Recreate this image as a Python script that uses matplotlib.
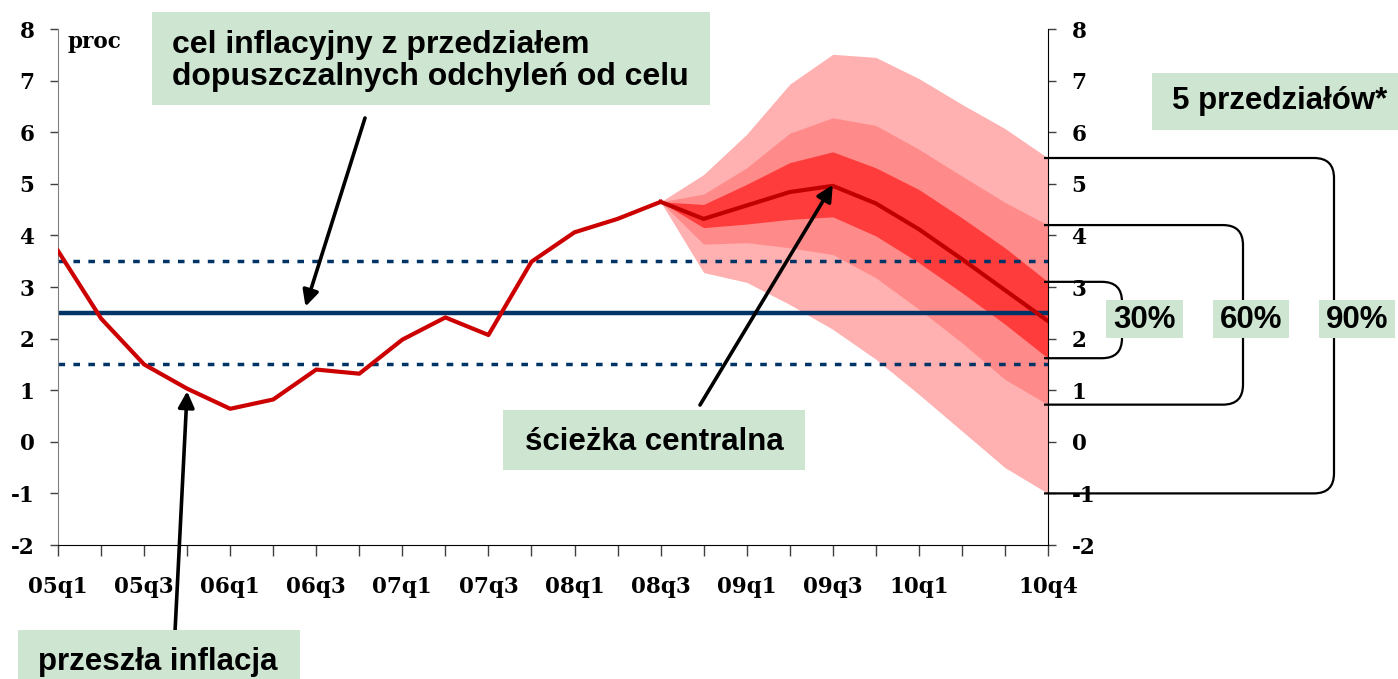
import matplotlib
matplotlib.use("Agg")
import matplotlib.pyplot as plt
import matplotlib.transforms as mtransforms
from matplotlib.patches import Rectangle, PathPatch
from matplotlib.path import Path
import numpy as np

plt.rcParams["axes.unicode_minus"] = False

# --- data ------------------------------------------------------------------
quarters = ["05q1", "05q2", "05q3", "05q4", "06q1", "06q2", "06q3", "06q4",
            "07q1", "07q2", "07q3", "07q4", "08q1", "08q2", "08q3", "08q4",
            "09q1", "09q2", "09q3", "09q4", "10q1", "10q2", "10q3", "10q4"]
labelled = ["05q1", "05q3", "06q1", "06q3", "07q1", "07q3", "08q1", "08q3",
            "09q1", "09q3", "10q1", "10q4"]

# past inflation 05q1..08q3
history = [3.70, 2.39, 1.50, 1.03, 0.64, 0.82, 1.40, 1.32,
           1.98, 2.41, 2.07, 3.49, 4.06, 4.32, 4.65]
# projection 08q3..10q4
central = [4.65, 4.32, 4.58, 4.84, 4.96, 4.62, 4.12, 3.54, 2.94, 2.34]
up90 = [4.65, 5.18, 5.96, 6.93, 7.51, 7.45, 7.04, 6.54, 6.07, 5.50]
up60 = [4.65, 4.80, 5.31, 5.98, 6.28, 6.13, 5.67, 5.15, 4.64, 4.20]
up30 = [4.65, 4.60, 4.99, 5.41, 5.62, 5.31, 4.89, 4.34, 3.76, 3.10]
lo30 = [4.65, 4.15, 4.22, 4.31, 4.36, 3.99, 3.47, 2.89, 2.28, 1.62]
lo60 = [4.65, 3.83, 3.86, 3.76, 3.63, 3.18, 2.57, 1.92, 1.21, 0.72]
lo90 = [4.65, 3.28, 3.09, 2.66, 2.18, 1.60, 0.92, 0.21, -0.50, -1.00]

target = 2.5
tolerance = 1.0

W, H = 1398, 679
NAVY = "#003366"
RED = "#CC0000"
GREEN = "#CDE5D1"
SERIF = "DejaVu Serif"
SANS = "Liberation Sans"


def fx(px):
    return px / W


def fy(py):
    return 1 - py / H


fig = plt.figure(figsize=(W / 100, H / 100), dpi=100)
ax = fig.add_axes([fx(58), fy(545), (1048 - 58) / W, (545 - 29) / H])

x_hist = np.arange(len(history))
x_fc = np.arange(len(history) - 1, len(quarters))

# fan chart
ax.fill_between(x_fc, lo90, up90, color="#FFB0B0", lw=0, zorder=1)
ax.fill_between(x_fc, lo60, up60, color="#FF8A8A", lw=0, zorder=1)
ax.fill_between(x_fc, lo30, up30, color="#FF3C3C", lw=0, zorder=1)

# inflation target with tolerance band
ax.axhline(target, color=NAVY, lw=3.2, zorder=2)
for v in (target - tolerance, target + tolerance):
    ax.axhline(v, color=NAVY, lw=2.5, linestyle=(0, (1.9, 2.4)), zorder=2)

ax.plot(x_hist, history, color=RED, lw=3.0, zorder=3)
ax.plot(x_fc, central, color="#C00000", lw=3.0, zorder=3)

ax.set_xlim(0, len(quarters) - 1)
ax.set_ylim(-2, 8)
ax.set_yticks(range(-2, 9))
ax.set_xticks(np.arange(len(quarters)), minor=True)
ax.set_xticks([quarters.index(q) for q in labelled])
ax.set_xticklabels(labelled)

ax.spines["top"].set_visible(False)
ax.spines["left"].set_color("#808080")
ax.spines["right"].set_color("black")
ax.spines["bottom"].set_color("black")

ax.tick_params(axis="y", which="both", direction="out", length=6, width=1,
               left=True, right=True, labelleft=True, labelright=True,
               pad=11, color="#404040")
ax.tick_params(axis="x", which="both", direction="out", length=8, width=1,
               pad=14, color="#404040")
for lab in ax.get_xticklabels() + ax.get_yticklabels():
    lab.set_fontfamily(SERIF)
    lab.set_fontweight("bold")
    lab.set_fontsize(15.5)

fig.text(fx(68), fy(42), "proc", family=SERIF, weight="bold", fontsize=15.5,
         ha="left", va="center")


# text boxes
def box(x0, y0, x1, y1, text, tx, ty, ha="center", size=22.5):
    fig.patches.append(Rectangle((fx(x0), fy(y1)), fx(x1) - fx(x0),
                                 fy(y0) - fy(y1), transform=fig.transFigure,
                                 facecolor=GREEN, edgecolor="none", zorder=5))
    fig.text(fx(tx), fy(ty), text, family=SANS, weight="bold", fontsize=size,
             ha=ha, va="center", zorder=6, linespacing=1.1)


box(152, 12, 710, 105,
    "cel inflacyjny z przedziałem\ndopuszczalnych odchyleń od celu",
    172, 61, ha="left", size=23)
box(1152, 73, 1398, 130, "5 przedziałów*", 1280, 101)
box(503, 410, 805, 470, "ścieżka centralna", 654, 442)
box(18, 630, 300, 695, "przeszła inflacja", 38, 662, ha="left")
box(1106, 300, 1183, 338, "30%", 1145, 320)
box(1213, 300, 1289, 338, "60%", 1251, 320)
box(1319, 300, 1395, 338, "90%", 1357, 320)

# arrows
arrow = dict(arrowstyle="-|>", lw=2.6, color="black", mutation_scale=24,
             shrinkA=0, shrinkB=0)
ax.annotate("", xy=(5.75, target + 0.12), xytext=(365, H - 118),
            textcoords="figure pixels", arrowprops=arrow, zorder=7,
            annotation_clip=False)
ax.annotate("", xy=(18, central[4] + 0.02), xytext=(700, H - 405),
            textcoords="figure pixels", arrowprops=arrow, zorder=7,
            annotation_clip=False)
ax.annotate("", xy=(3, history[3] - 0.05), xytext=(175, H - 632),
            textcoords="figure pixels", arrowprops=arrow, zorder=7,
            annotation_clip=False)

# brackets for probability intervals at the end of the horizon
trans = mtransforms.blended_transform_factory(fig.transFigure, ax.transData)
rx, ry = fx(20), 20 / 51.6
for top, bot, xr in ((up30[-1], lo30[-1], 1122), (up60[-1], lo60[-1], 1243),
                     (up90[-1], lo90[-1], 1334)):
    x0, x1 = fx(1044), fx(xr)
    verts = [(x0, top), (x1 - rx, top), (x1, top), (x1, top - ry),
             (x1, bot + ry), (x1, bot), (x1 - rx, bot), (x0, bot)]
    codes = [Path.MOVETO, Path.LINETO, Path.CURVE3, Path.CURVE3,
             Path.LINETO, Path.CURVE3, Path.CURVE3, Path.LINETO]
    fig.patches.append(PathPatch(Path(verts, codes), transform=trans,
                                 facecolor="none", edgecolor="black", lw=1.6,
                                 zorder=4))

fig.savefig("out.png", dpi=100)
